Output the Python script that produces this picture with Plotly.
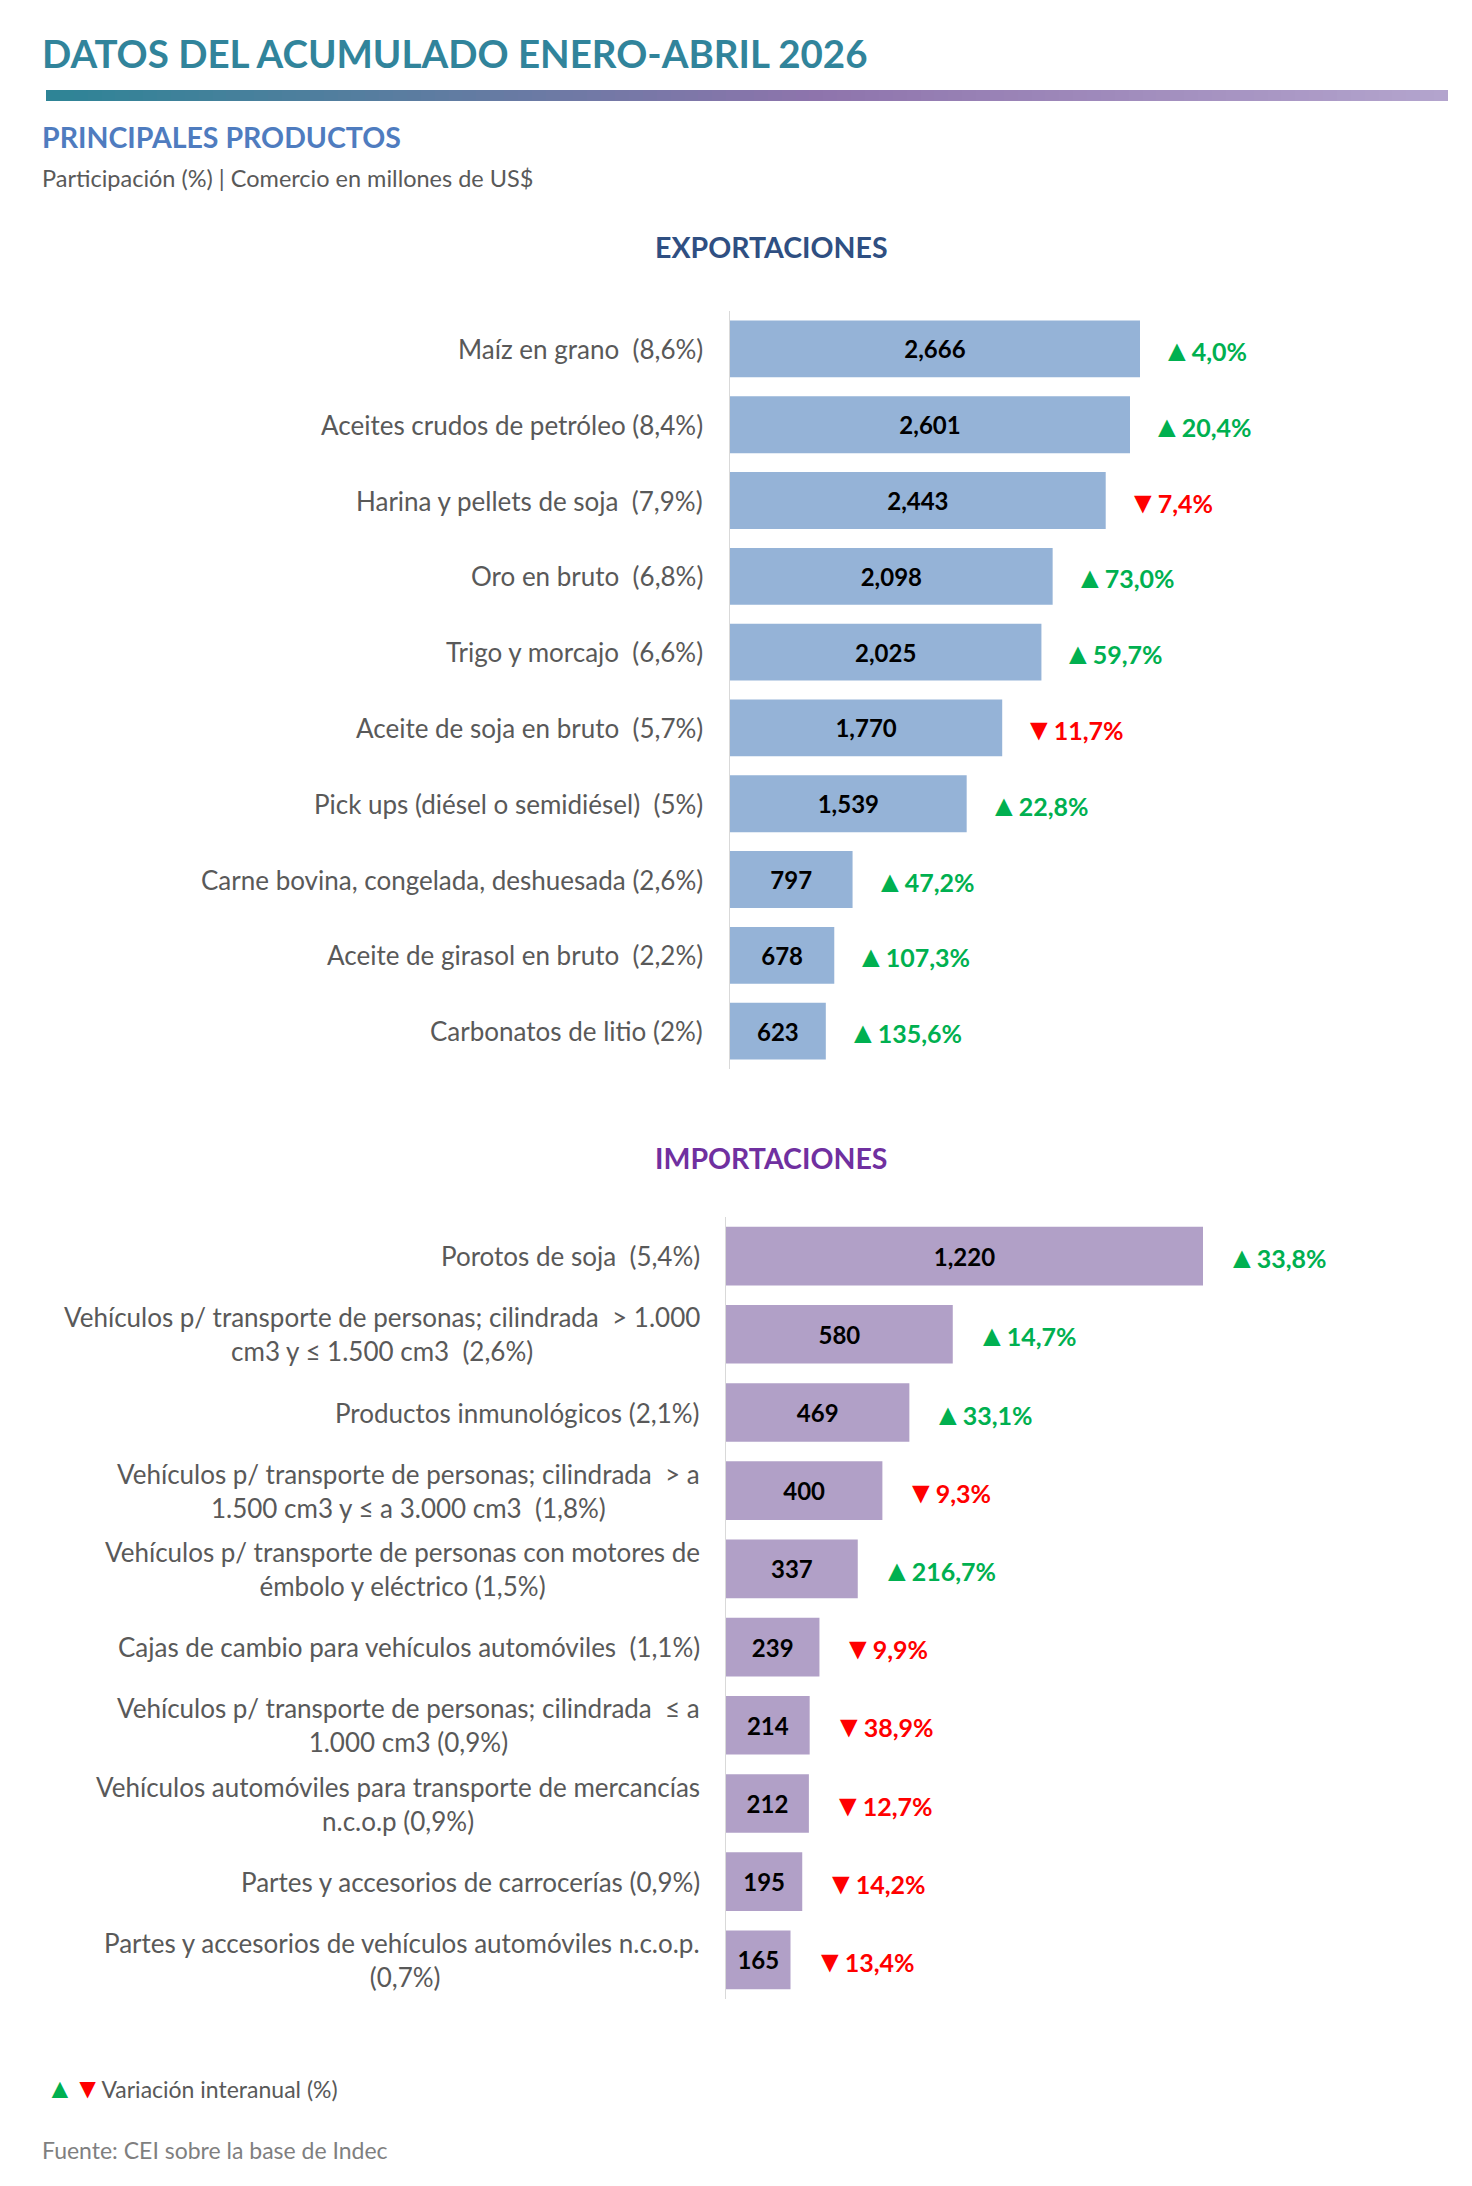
import plotly.graph_objects as go

# ---------------- DATA ----------------
exp_products = [
    "Maíz en grano ", "Aceites crudos de petróleo", "Harina y pellets de soja ",
    "Oro en bruto ", "Trigo y morcajo ", "Aceite de soja en bruto ",
    "Pick ups (diésel o semidiésel) ", "Carne bovina, congelada, deshuesada",
    "Aceite de girasol en bruto ", "Carbonatos de litio",
]
exp_share = ["8,6%", "8,4%", "7,9%", "6,8%", "6,6%", "5,7%", "5%", "2,6%", "2,2%", "2%"]
exp_values = [2666, 2601, 2443, 2098, 2025, 1770, 1539, 797, 678, 623]
exp_var = [4.0, 20.4, -7.4, 73.0, 59.7, -11.7, 22.8, 47.2, 107.3, 135.6]

imp_products = [
    "Porotos de soja ",
    "Vehículos p/ transporte de personas; cilindrada  > 1.000<br>cm3 y ≤ 1.500 cm3 ",
    "Productos inmunológicos",
    "Vehículos p/ transporte de personas; cilindrada  > a<br>1.500 cm3 y ≤ a 3.000 cm3 ",
    "Vehículos p/ transporte de personas con motores de<br>émbolo y eléctrico",
    "Cajas de cambio para vehículos automóviles ",
    "Vehículos p/ transporte de personas; cilindrada  ≤ a<br>1.000 cm3",
    "Vehículos automóviles para transporte de mercancías<br>n.c.o.p",
    "Partes y accesorios de carrocerías",
    "Partes y accesorios de vehículos automóviles n.c.o.p.<br>",
]
imp_share = ["5,4%", "2,6%", "2,1%", "1,8%", "1,5%", "1,1%", "0,9%", "0,9%", "0,9%", "0,7%"]
imp_values = [1220, 580, 469, 400, 337, 239, 214, 212, 195, 165]
imp_var = [33.8, 14.7, 33.1, -9.3, 216.7, -9.9, -38.9, -12.7, -14.2, -13.4]

# ---------------- STYLE ----------------
W, H = 1472, 2186
FONT = "Lato"
GRAY = "#595959"
GREEN = "#00B050"
RED = "#FF0000"
EXP_COLOR = "#95B3D7"
IMP_COLOR = "#B1A0C7"
LABEL_SIZE = 26
VALUE_SIZE = 24
VAR_SIZE = 25


def px_x(p):
    return p / W


def px_y(p):
    return 1 - p / H


def fmt_var(v):
    arrow = "▲" if v >= 0 else "▼"
    return (f'<span style="font-size:{VAR_SIZE + 5}px">{arrow}</span>'
            + f"{abs(v):.1f}".replace(".", ",") + "%")


fig = go.Figure()

# gradient rule under the title
fig.add_trace(go.Heatmap(
    z=[list(range(101))], colorscale=[[0, "#2E8496"], [0.55, "#8E74AC"], [1, "#B3A4CD"]],
    showscale=False, xaxis="x3", yaxis="y3", hoverinfo="skip",
))

# exports
fig.add_trace(go.Bar(
    x=exp_values, y=exp_products, orientation="h", marker=dict(color=EXP_COLOR, line=dict(width=0)),
    texttemplate="<b>%{x:,}</b>", textposition="inside", insidetextanchor="middle",
    textfont=dict(family=FONT, size=VALUE_SIZE, color="black"), xaxis="x", yaxis="y",
    hoverinfo="skip",
))
# imports
fig.add_trace(go.Bar(
    x=imp_values, y=imp_products, orientation="h", marker=dict(color=IMP_COLOR, line=dict(width=0)),
    texttemplate="<b>%{x:,}</b>", textposition="inside", insidetextanchor="middle",
    textfont=dict(family=FONT, size=VALUE_SIZE, color="black"), xaxis="x2", yaxis="y2",
    hoverinfo="skip",
))

annotations = []

# product labels
for name, share in zip(exp_products, exp_share):
    annotations.append(dict(
        x=px_x(705), xref="paper", y=name, yref="y", xanchor="right", yanchor="middle",
        text=f"{name} ({share})", showarrow=False, align="center",
        font=dict(family=FONT, size=LABEL_SIZE, color=GRAY),
    ))
for name, share in zip(imp_products, imp_share):
    annotations.append(dict(
        x=px_x(702), xref="paper", y=name, yref="y2", xanchor="right", yanchor="middle",
        text=f"{name} ({share})", showarrow=False, align="center",
        font=dict(family=FONT, size=LABEL_SIZE, color=GRAY),
    ))

# variation labels
for name, val, var in zip(exp_products, exp_values, exp_var):
    annotations.append(dict(
        x=val, xref="x", y=name, yref="y", xanchor="left", yanchor="middle", xshift=20,
        text=f"<b>{fmt_var(var)}</b>", showarrow=False,
        font=dict(family=FONT, size=VAR_SIZE, color=GREEN if var >= 0 else RED),
    ))
for name, val, var in zip(imp_products, imp_values, imp_var):
    annotations.append(dict(
        x=val, xref="x2", y=name, yref="y2", xanchor="left", yanchor="middle", xshift=22,
        text=f"<b>{fmt_var(var)}</b>", showarrow=False,
        font=dict(family=FONT, size=VAR_SIZE, color=GREEN if var >= 0 else RED),
    ))

# titles and texts
annotations += [
    dict(x=px_x(40), y=px_y(53), xref="paper", yref="paper", xanchor="left", yanchor="middle",
         text="<b>DATOS DEL ACUMULADO ENERO-ABRIL 2026</b>", showarrow=False,
         font=dict(family=FONT, size=38.5, color="#31849B")),
    dict(x=px_x(40), y=px_y(137), xref="paper", yref="paper", xanchor="left", yanchor="middle",
         text="<b>PRINCIPALES PRODUCTOS</b>", showarrow=False,
         font=dict(family=FONT, size=28.5, color="#4F7CBF")),
    dict(x=px_x(40), y=px_y(178), xref="paper", yref="paper", xanchor="left", yanchor="middle",
         text="Participación (%) | Comercio en millones de US$", showarrow=False,
         font=dict(family=FONT, size=23.5, color=GRAY)),
    dict(x=px_x(771), y=px_y(247), xref="paper", yref="paper", xanchor="center", yanchor="middle",
         text="<b>EXPORTACIONES</b>", showarrow=False,
         font=dict(family=FONT, size=28.5, color="#2F4F82")),
    dict(x=px_x(771), y=px_y(1158), xref="paper", yref="paper", xanchor="center", yanchor="middle",
         text="<b>IMPORTACIONES</b>", showarrow=False,
         font=dict(family=FONT, size=28.5, color="#7030A0")),
    dict(x=px_x(44), y=px_y(2087), xref="paper", yref="paper", xanchor="left", yanchor="middle",
         text=(f'<span style="color:{GREEN};font-size:28px">▲</span>'
               f'<span style="color:{RED};font-size:28px">▼</span>Variación interanual (%)'),
         showarrow=False, font=dict(family=FONT, size=23, color=GRAY)),
    dict(x=px_x(40), y=px_y(2150), xref="paper", yref="paper", xanchor="left", yanchor="middle",
         text="Fuente: CEI sobre la base de Indec", showarrow=False,
         font=dict(family=FONT, size=23, color="#7F7F7F")),
]

fig.update_layout(
    width=W, height=H, margin=dict(l=0, r=0, t=0, b=0),
    paper_bgcolor="white", plot_bgcolor="white", showlegend=False,
    bargap=0.25,
    uniformtext=dict(minsize=20, mode="show"),
    annotations=annotations,
    xaxis=dict(domain=[px_x(730), 1], range=[0, 742 / (410 / 2666)], visible=False, anchor="y", fixedrange=True),
    yaxis=dict(domain=[px_y(1069), px_y(311)], type="category", autorange="reversed",
               showline=True, linecolor="#D9D9D9", linewidth=1, showticklabels=False,
               showgrid=False, ticks="", anchor="x", zeroline=False),
    xaxis2=dict(domain=[px_x(726), 1], range=[0, 746 / (477 / 1220)], visible=False, anchor="y2"),
    yaxis2=dict(domain=[px_y(1999), px_y(1217)], type="category", autorange="reversed",
                showline=True, linecolor="#D9D9D9", linewidth=1, showticklabels=False,
                showgrid=False, ticks="", anchor="x2", zeroline=False),
    xaxis3=dict(domain=[px_x(46), px_x(1448)], visible=False, anchor="y3"),
    yaxis3=dict(domain=[px_y(101), px_y(90)], visible=False, anchor="x3"),
)

fig.write_html("out.html")
